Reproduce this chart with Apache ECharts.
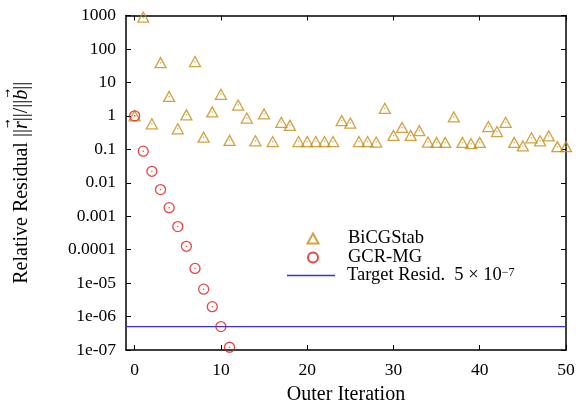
<!DOCTYPE html>
<html>
<head>
<meta charset="utf-8">
<script src="https://cdn.jsdelivr.net/npm/echarts@6/dist/echarts.min.js"></script>
<style>
html,body{margin:0;padding:0;background:#fff;}
#c{width:576px;height:401px;}
</style>
</head>
<body>
<div id="c"></div>
<script>
const iterations = Array.from({length: 51}, (_, i) => i);
const bicgstab = [1.0, 890, 0.58, 39, 3.8, 0.41, 1.07, 42, 0.23, 1.31, 4.4, 0.185, 2.1, 0.86, 0.18, 1.14, 0.17, 0.64, 0.52, 0.17, 0.17, 0.17, 0.17, 0.17, 0.72, 0.61, 0.17, 0.17, 0.165, 1.68, 0.26, 0.45, 0.26, 0.36, 0.165, 0.16, 0.16, 0.93, 0.16, 0.147, 0.16, 0.48, 0.34, 0.64, 0.16, 0.126, 0.22, 0.18, 0.25, 0.12, 0.12];
const gcrmg = [1.0, 0.088, 0.022, 0.00625, 0.0018, 0.00049, 0.000126, 2.75e-5, 6.6e-6, 1.97e-6, 5.0e-7, 1.21e-7];
const targetResid = 5e-7;
const xRange = [-1, 50];
const xTicks = [0, 10, 20, 30, 40, 50];
const yTicks = [1e-7, 1e-6, 1e-5, 1e-4, 1e-3, 1e-2, 1e-1, 1, 10, 100, 1000];
const yTickLabels = ['1e-07', '1e-06', '1e-05', '0.0001', '0.001', '0.01', '0.1', '1', '10', '100', '1000'];
const seriesNames = ['BiCGStab', 'GCR-MG', 'Target Resid.'];

const FONT = 'Liberation Serif';
const gold = '#c48c10';
const red = '#e01818';
const blue = '#3434d8';

const bicData = bicgstab.map((v, i) => [iterations[i], v]);
const gcrData = gcrmg.map((v, i) => [iterations[i], v]);

function yLabel(v) {
  const e = Math.round(Math.log10(v));
  const idx = yTicks.findIndex(t => Math.round(Math.log10(t)) === e);
  return idx >= 0 ? yTickLabels[idx] : '';
}

// y-axis title with vector arrows placed on a thin line above r and b
const NAME_SIZE = 20;
const ctx = document.createElement('canvas').getContext('2d');
function tw(s, italic) {
  ctx.font = (italic ? 'italic ' : '') + NAME_SIZE + 'px "' + FONT + '"';
  return ctx.measureText(s).width;
}
const wPre = tw('Relative Residual ||');
const wR = tw('r', true);
const wMid = tw('||/||');
const wB = tw('b', true);
const wPost = tw('||');
const yName = '{sp1|}{arr|→}{sp2|}{arr2|→}{sp3|}\n' +
  '{n|Relative Residual ||}{i|r}{n|||/||}{i|b}{n|||}';
const yNameRich = {
  sp1: {width: wPre + 1.5, height: 7, lineHeight: 7},
  arr: {width: wR, height: 7, lineHeight: 7, fontSize: 10, fontFamily: 'DejaVu Sans', align: 'center', color: '#000'},
  sp2: {width: wMid, height: 7, lineHeight: 7},
  arr2: {width: wB, height: 7, lineHeight: 7, fontSize: 10, fontFamily: 'DejaVu Sans', align: 'center', color: '#000'},
  sp3: {width: wPost - 1.5, height: 7, lineHeight: 7},
  n: {fontFamily: FONT, fontSize: NAME_SIZE, color: '#000', lineHeight: 20},
  i: {fontFamily: FONT, fontStyle: 'italic', fontSize: NAME_SIZE, color: '#000', lineHeight: 20}
};

const axisLineStyle = {color: '#000', width: 1.5};
const legendText = (padLeft) => ({
  fontFamily: FONT, fontSize: 18.5, color: '#000', lineHeight: 18, padding: [0, 0, 0, padLeft],
  rich: {
    sup: {fontFamily: FONT, fontSize: 12, verticalAlign: 'top', lineHeight: 12, padding: [0, 0, 8, 0], color: '#000'},
    n: {fontFamily: FONT, fontSize: 18.5, color: '#000', lineHeight: 18}
  }
});
const chart = echarts.init(document.getElementById('c'));
chart.setOption({
  animation: false,
  backgroundColor: '#fff',
  textStyle: {fontFamily: FONT},
  grid: {left: 126, right: 10, top: 15.5, bottom: 51, containLabel: false, outerBoundsMode: 'none'},
  legend: [{
    orient: 'vertical', left: 306.5, top: 229, itemWidth: 11, itemHeight: 10, padding: 0,
    selectedMode: false, textStyle: legendText(24.5), data: [seriesNames[0]]
  }, {
    orient: 'vertical', left: 307, top: 248, itemWidth: 10, itemHeight: 10, padding: 0,
    selectedMode: false, textStyle: legendText(25), data: [seriesNames[1]]
  }, {
    orient: 'vertical', left: 287, top: 266, itemWidth: 48, itemHeight: 1.3, icon: 'rect', padding: 0,
    selectedMode: false, textStyle: legendText(7),
    formatter: function () { return '{n|Target Resid.  5 × 10}{sup|−7}'; },
    data: [seriesNames[2]]
  }],
  xAxis: [{
    type: 'value', min: xRange[0], max: xRange[1], position: 'bottom',
    name: 'Outer Iteration', nameLocation: 'middle', nameGap: 35,
    nameTextStyle: {fontFamily: FONT, fontSize: 20, color: '#000'},
    axisLine: {onZero: false, lineStyle: axisLineStyle},
    axisTick: {inside: true, length: 5, customValues: xTicks, lineStyle: {color: '#000'}},
    axisLabel: {customValues: xTicks, margin: 11, fontFamily: FONT, fontSize: 17.5, color: '#000'},
    splitLine: {show: false}
  }, {
    type: 'value', min: xRange[0], max: xRange[1], position: 'top',
    axisLine: {onZero: false, lineStyle: axisLineStyle},
    axisTick: {inside: true, length: 5, customValues: xTicks, lineStyle: {color: '#000'}},
    axisLabel: {show: false},
    splitLine: {show: false}
  }],
  yAxis: [{
    type: 'log', logBase: 10, min: yTicks[0], max: yTicks[yTicks.length - 1], position: 'left',
    name: yName, nameLocation: 'middle', nameGap: 94, nameRotate: 90,
    nameTextStyle: {fontFamily: FONT, fontSize: NAME_SIZE, color: '#000', align: 'center', rich: yNameRich},
    axisLine: {onZero: false, lineStyle: axisLineStyle},
    axisTick: {inside: true, length: 5, customValues: yTicks, lineStyle: {color: '#000'}},
    axisLabel: {customValues: yTicks, margin: 10, fontFamily: FONT, fontSize: 17.5, color: '#000', formatter: yLabel},
    splitLine: {show: false}
  }, {
    type: 'log', logBase: 10, min: yTicks[0], max: yTicks[yTicks.length - 1], position: 'right',
    axisLine: {onZero: false, lineStyle: axisLineStyle},
    axisTick: {inside: true, length: 5, customValues: yTicks, lineStyle: {color: '#000'}},
    axisLabel: {show: false},
    splitLine: {show: false}
  }],
  series: [{
    name: 'BiCGStab', type: 'scatter', data: bicData,
    symbol: 'triangle', symbolSize: [11, 10],
    itemStyle: {color: 'rgba(0,0,0,0)', borderColor: gold, borderWidth: 1.3},
    z: 3
  }, {
    name: 'BiCGStab-dot', type: 'scatter', data: bicData,
    symbol: 'circle', symbolSize: 1.5, itemStyle: {color: gold}, silent: true, z: 3
  }, {
    name: 'GCR-MG', type: 'scatter', data: gcrData,
    symbol: 'circle', symbolSize: 10,
    itemStyle: {color: 'rgba(0,0,0,0)', borderColor: red, borderWidth: 1.3},
    z: 4
  }, {
    name: 'GCR-MG-dot', type: 'scatter', data: gcrData,
    symbol: 'circle', symbolSize: 1.5, itemStyle: {color: red}, silent: true, z: 4
  }, {
    name: 'Target Resid.', type: 'line', data: [[xRange[0], targetResid], [xRange[1], targetResid]],
    symbol: 'none', showSymbol: false, lineStyle: {color: blue, width: 1.2}, itemStyle: {color: blue}, z: 2
  }]
});
</script>
</body>
</html>
